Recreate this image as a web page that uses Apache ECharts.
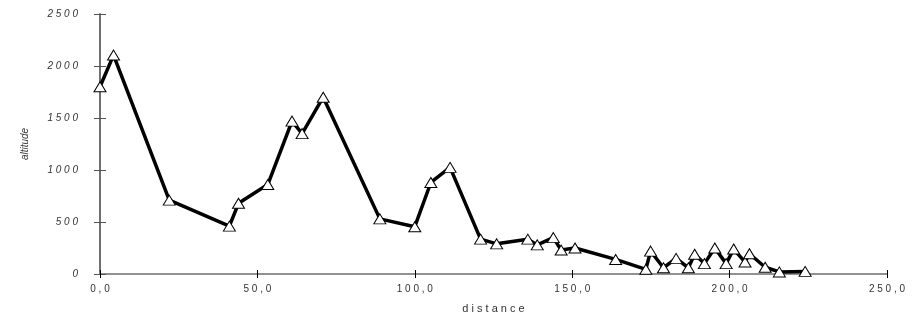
<!DOCTYPE html>
<html>
<head>
<meta charset="utf-8">
<script src="https://cdn.jsdelivr.net/npm/echarts@6/dist/echarts.min.js"></script>
<style>
  html, body { margin: 0; padding: 0; background: #fff; }
  #chart { width: 919px; height: 315px; }
</style>
</head>
<body>
<div id="chart"></div>
<script>
// distance along the route and altitude at each point
const distance = [0, 4.3, 22, 41.1, 44, 53.3, 61, 64.2, 70.9, 88.9, 100, 105.1, 111.2, 120.9, 126, 135.9, 138.9, 144, 146.5, 150.9, 163.8,
  173.4, 174.9, 179, 183, 186.9, 188.9, 192, 195.3, 198.9, 201.3, 204.9, 206.3, 211.3, 215.8, 224]
const altitude = [1800, 2105, 710, 460, 680, 860, 1470, 1350, 1700, 530, 455, 880, 1025, 335, 290, 335, 280, 350, 230, 250, 140,
  45, 220, 60, 150, 60, 190, 100, 250, 100, 240, 115, 195, 65, 20, 25]

const xTicks = [0, 50, 100, 150, 200, 250]
const yTicks = [0, 500, 1000, 1500, 2000, 2500]

const spaced = (s) => String(s).split('').join(' ')
const xLabel = (v) => spaced(v.toFixed(1).replace('.', ','))

const font = 'Liberation Sans, Arial, sans-serif'

const xBase = {
  type: 'value',
  min: xTicks[0],
  max: xTicks[xTicks.length - 1],
  interval: xTicks[1] - xTicks[0],
  splitLine: { show: false },
  axisLine: { onZero: false, lineStyle: { color: '#8a8a8a', width: 1.5 } }
}
const yBase = {
  type: 'value',
  min: yTicks[0],
  max: yTicks[yTicks.length - 1],
  interval: yTicks[1] - yTicks[0],
  splitLine: { show: false },
  axisLine: { show: true, onZero: false, lineStyle: { color: '#666', width: 1.5 } }
}

const chart = echarts.init(document.getElementById('chart'))
chart.setOption({
  animation: false,
  grid: { left: 100, right: 32, top: 14, bottom: 41, outerBoundsMode: 'none', containLabel: false },
  xAxis: [
    {
      ...xBase,
      name: spaced('distance'),
      nameLocation: 'middle',
      nameGap: 29,
      nameTextStyle: { color: '#333', fontSize: 11, fontFamily: font },
      axisTick: { show: true, length: 4, lineStyle: { color: '#000' } },
      axisLabel: { color: '#333', fontSize: 10, fontFamily: font, margin: 10, formatter: xLabel }
    },
    {
      ...xBase,
      position: 'bottom',
      axisTick: { show: true, inside: true, length: 4, lineStyle: { color: '#000' } },
      axisLabel: { show: false }
    }
  ],
  yAxis: [
    {
      ...yBase,
      name: 'altitude',
      nameLocation: 'middle',
      nameGap: 70,
      nameTextStyle: { color: '#333', fontSize: 10, fontStyle: 'italic', fontFamily: font },
      axisTick: { show: true, length: 6, lineStyle: { color: '#555' } },
      axisLabel: { color: '#333', fontSize: 10, fontStyle: 'italic', fontFamily: font, margin: 22, formatter: spaced }
    },
    {
      ...yBase,
      position: 'left',
      axisTick: { show: true, inside: true, length: 6, lineStyle: { color: '#555' } },
      axisLabel: { show: false }
    }
  ],
  series: [
    {
      type: 'line',
      data: distance.map((d, i) => [d, altitude[i]]),
      symbol: 'triangle',
      symbolSize: [12, 10],
      showAllSymbol: true,
      lineStyle: { color: '#000', width: 3.5 },
      itemStyle: { color: '#fff', borderColor: '#000', borderWidth: 1 },
      z: 3
    }
  ]
})
</script>
</body>
</html>
